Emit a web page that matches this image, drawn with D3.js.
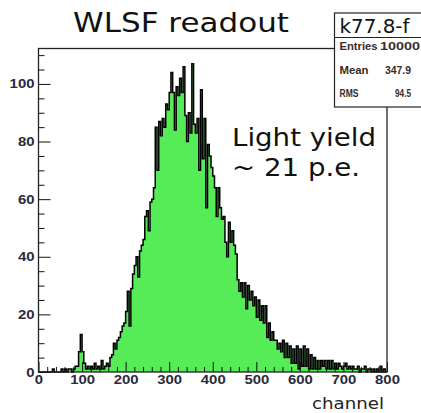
<!DOCTYPE html>
<html>
<head>
<meta charset="utf-8">
<script src="https://cdn.jsdelivr.net/npm/d3@7"></script>
<style>
  html, body { margin: 0; padding: 0; background: #fff; }
  svg { display: block; }
</style>
</head>
<body>
<svg id="chart" width="421" height="413"></svg>
<script>
// ---- data (4-channel bins, channel 0..800) ----
const binWidth = 4;
const counts = [
  0,0,0,0,0,0,0,0,1,0,
  0,0,0,1,0,1,0,1,1,0,
  1,2,2,7,13,7,3,1,2,1,
  2,1,3,1,2,1,4,1,2,3,
  2,5,6,10,8,11,12,14,16,17,
  21,28,16,29,34,37,40,33,42,44,
  46,54,56,49,59,60,64,85,70,87,
  82,88,85,93,91,97,104,97,84,99,
  96,102,97,106,89,80,90,83,107,86,
  83,88,70,98,74,88,57,79,75,71,
  68,64,54,64,57,53,54,45,40,52,
  45,49,44,41,32,28,31,26,31,22,
  30,25,28,23,26,19,25,18,23,17,
  23,12,17,11,14,11,11,8,10,7,
  11,5,10,5,9,3,8,3,9,1,
  8,2,9,2,8,1,6,1,5,1,
  4,1,4,2,4,1,4,1,4,1,
  3,1,3,2,1,2,3,1,2,1,
  2,1,1,2,0,1,1,2,0,1,
  1,0,1,0,1,0,2,0,1,0
];
const xMajorTicks = [0,100,200,300,400,500,600,700,800];
const yMajorTicks = [0,20,40,60,80,100];
const titleText = "WLSF readout";
const statsName = "k77.8-f";
const statsLabels = ["Entries", "Mean", "RMS"];
const statsValues = ["10000", "347.9", "94.5"];
const annotation = ["Light yield", "~ 21 p.e."];
const xTitle = "channel";

// ---- layout ----
const svg = d3.select("#chart");
const X0 = 38.5, X1 = 387, Y0 = 372, Y1 = 48.5;
const x = d3.scaleLinear().domain([0, 800]).range([X0, X1]);
const y = d3.scaleLinear().domain([0, 112.3]).range([Y0, Y1]);

// histogram points
const pts = counts.map((c, i) => ({ e: i * binWidth, v: c }));
pts.push({ e: counts.length * binWidth, v: counts[counts.length - 1] });

const area = d3.area().curve(d3.curveStepAfter)
  .x(d => x(d.e)).y0(y(0)).y1(d => y(d.v));
const line = d3.line().curve(d3.curveStepAfter)
  .x(d => x(d.e)).y(d => y(d.v));

svg.append("path").attr("d", area(pts)).attr("fill", "#55ec58");
svg.append("path").attr("d", line(pts)).attr("fill", "none")
  .attr("stroke", "#000").attr("stroke-width", 1.5);

// ---- axes ----
const axisFont = "'Liberation Sans', Arial, sans-serif";
const yMinor = d3.range(0, 112.3, 5).filter(v => v % 20 !== 0);
const xMinor = d3.range(0, 801, 20).filter(v => v % 100 !== 0);

const gy = svg.append("g").attr("transform", `translate(${X0},0)`);
gy.call(d3.axisLeft(y).tickValues(yMajorTicks).tickSizeInner(-12).tickSizeOuter(0).tickPadding(4).tickFormat(d3.format("d")));
const gy2 = svg.append("g").attr("transform", `translate(${X0},0)`);
gy2.call(d3.axisLeft(y).tickValues(yMinor).tickSizeInner(-6).tickSizeOuter(0).tickFormat(""));

const gx = svg.append("g").attr("transform", `translate(0,${Y0})`);
gx.call(d3.axisBottom(x).tickValues(xMajorTicks).tickSizeInner(-10).tickSizeOuter(0).tickPadding(4).tickFormat(d3.format("d")));
const gx2 = svg.append("g").attr("transform", `translate(0,${Y0})`);
gx2.call(d3.axisBottom(x).tickValues(xMinor).tickSizeInner(-5).tickSizeOuter(0).tickFormat(""));

svg.selectAll(".domain").remove();
svg.selectAll(".tick line").attr("stroke", "#111").attr("stroke-width", 1);
gy.selectAll("text").attr("font-family", axisFont).attr("font-weight", "bold")
  .attr("font-size", 12.5).attr("fill", "#2a2a3a")
  .attr("textLength", d => String(d).length * 8.3).attr("lengthAdjust", "spacingAndGlyphs");
gx.selectAll("text").attr("font-family", axisFont).attr("font-weight", "bold")
  .attr("font-size", 12.5).attr("fill", "#2a2a3a").attr("dy", "0.62em")
  .attr("textLength", d => String(d).length * 8.3).attr("lengthAdjust", "spacingAndGlyphs");

// frame
svg.append("rect").attr("x", X0).attr("y", Y1).attr("width", X1 - X0).attr("height", Y0 - Y1)
  .attr("fill", "none").attr("stroke", "#222").attr("stroke-width", 1.3);

// ---- title ----
svg.append("text").attr("x", 73).attr("y", 31.5)
  .attr("font-family", "'DejaVu Sans', sans-serif").attr("font-size", 27)
  .attr("fill", "#111").attr("textLength", 216).attr("lengthAdjust", "spacingAndGlyphs")
  .text(titleText);

// ---- stats box ----
const sb = svg.append("g");
sb.append("rect").attr("x", 334.5).attr("y", 13).attr("width", 100).attr("height", 94)
  .attr("fill", "#fff").attr("stroke", "#222").attr("stroke-width", 1.2);
sb.append("line").attr("x1", 334.5).attr("x2", 421).attr("y1", 37.5).attr("y2", 37.5)
  .attr("stroke", "#222").attr("stroke-width", 1.2);
sb.append("text").attr("x", 339.5).attr("y", 32.5)
  .attr("font-family", "'DejaVu Sans', sans-serif").attr("font-size", 19.5).attr("fill", "#111")
  .attr("textLength", 70).attr("lengthAdjust", "spacingAndGlyphs").text(statsName);
const rowY = [50, 73.5, 97];
const labW = [38, 29, 19];
const valX = [380, 385, 395];
const valW = [40, 26, 16];
statsLabels.forEach((lab, i) => {
  sb.append("text").attr("x", 339.5).attr("y", rowY[i])
    .attr("font-family", axisFont).attr("font-size", 10).attr("font-weight", "bold")
    .attr("fill", "#3a2a2a").attr("textLength", labW[i]).attr("lengthAdjust", "spacingAndGlyphs")
    .text(lab);
  sb.append("text").attr("x", valX[i]).attr("y", rowY[i])
    .attr("font-family", axisFont).attr("font-size", 10).attr("font-weight", "bold")
    .attr("fill", "#3a2a2a").attr("textLength", valW[i]).attr("lengthAdjust", "spacingAndGlyphs")
    .text(statsValues[i]);
});

// ---- annotation ----
const ann = svg.append("g").attr("font-family", "'DejaVu Sans', sans-serif")
  .attr("font-size", 25).attr("fill", "#111");
ann.append("text").attr("x", 232).attr("y", 146).attr("textLength", 144)
  .attr("lengthAdjust", "spacingAndGlyphs").text(annotation[0]);
ann.append("text").attr("x", 232).attr("y", 176).attr("textLength", 128)
  .attr("lengthAdjust", "spacingAndGlyphs").text(annotation[1]);

// ---- x title ----
svg.append("text").attr("x", 384).attr("y", 409).attr("text-anchor", "end")
  .attr("font-family", "'DejaVu Sans', sans-serif").attr("font-size", 16.5).attr("fill", "#222")
  .attr("textLength", 72).attr("lengthAdjust", "spacingAndGlyphs").text(xTitle);
</script>
</body>
</html>
